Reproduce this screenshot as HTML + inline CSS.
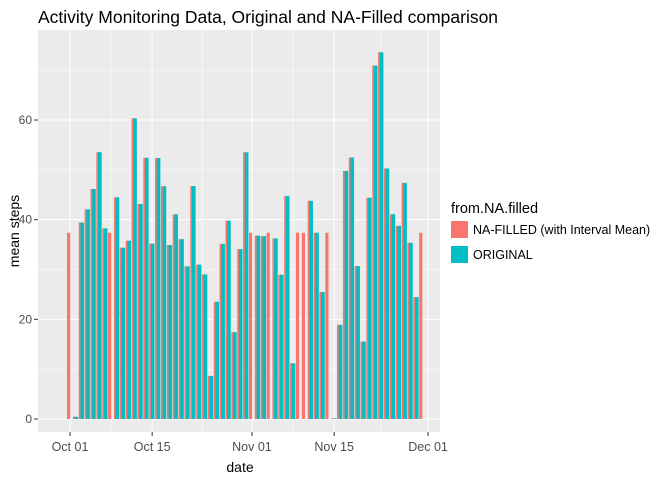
<!DOCTYPE html>
<html><head><meta charset="utf-8"><style>
body{margin:0;background:#fff;font-family:"Liberation Sans",sans-serif}
</style></head><body>
<svg id="c" width="672" height="480" xmlns="http://www.w3.org/2000/svg">
<text x="38" y="23" font-size="17.5" fill="#000">Activity Monitoring Data, Original and NA-Filled comparison</text>
<rect x="38" y="30" width="402" height="402" fill="#ebebeb"/>
<g id="grid"></g><g id="bars"></g><g id="axes"></g>
<text x="240" y="472" font-size="14" text-anchor="middle">date</text>
<text transform="translate(19,231) rotate(-90)" font-size="14" text-anchor="middle">mean steps</text>
<g>
<text x="451" y="213" font-size="14.5">from.NA.filled</text>
<rect x="451" y="221" width="17" height="17" fill="#f8766d"/>
<text x="473" y="234" font-size="12.5">NA-FILLED (with Interval Mean)</text>
<rect x="451" y="246" width="17" height="17" fill="#00bfc4"/>
<text x="473" y="259" font-size="12.5">ORIGINAL</text>
</g>
</svg>
<script>
const original=[null,0.44,39.42,42.07,46.16,53.54,38.25,null,44.48,34.38,35.78,60.35,43.15,52.42,35.20,52.38,46.71,34.92,41.07,36.09,30.63,46.74,30.97,29.01,8.65,23.53,35.14,39.78,17.42,34.09,53.52,null,36.81,36.70,null,36.25,28.94,44.73,11.18,null,null,43.78,37.38,25.47,null,0.14,18.89,49.79,52.47,30.70,15.53,44.40,70.93,73.59,50.27,41.09,38.76,47.38,35.36,24.47,null];
const fillValue=37.38;
const filled=original.map(v=>v===null?fillValue:v);
const yTicks=[0,20,40,60];
const xTickDays=[0,14,31,45,61];
const xTickLabels=["Oct 01","Oct 15","Nov 01","Nov 15","Dec 01"];
const NS="http://www.w3.org/2000/svg";
const xs=d=>70+d*5.87, ys=v=>419-v*4.983;
function mk(t,a,p){const e=document.createElementNS(NS,t);for(const k in a)e.setAttribute(k,a[k]);p.appendChild(e);return e;}
const grid=document.getElementById('grid'),bars=document.getElementById('bars'),axes=document.getElementById('axes');
[10,30,50,70].forEach(v=>{const l=mk('line',{x1:38,x2:440,y1:ys(v),y2:ys(v),stroke:'#fff','stroke-width':0.5},grid);});
[7,22.5,38,53].forEach(d=>{const l=mk('line',{x1:xs(d),x2:xs(d),y1:30,y2:432,stroke:'#fff','stroke-width':0.5},grid);});
yTicks.forEach(v=>{const l=mk('line',{x1:38,x2:440,y1:ys(v),y2:ys(v),stroke:'#fff','stroke-width':1},grid);
const t=mk('line',{x1:34,x2:38,y1:ys(v),y2:ys(v),stroke:'#333'},axes);
const tx=mk('text',{x:32,y:ys(v)+4,'font-size':12,fill:'#4d4d4d','text-anchor':'end'},axes);tx.textContent=v;});
xTickDays.forEach((d,i)=>{const l=mk('line',{x1:xs(d),x2:xs(d),y1:30,y2:432,stroke:'#fff','stroke-width':1},grid);
const t=mk('line',{x1:xs(d),x2:xs(d),y1:432,y2:436,stroke:'#333'},axes);
const tx=mk('text',{x:xs(d),y:451,'font-size':12.5,fill:'#4d4d4d','text-anchor':'middle'},axes);tx.textContent=xTickLabels[i];});
filled.forEach((v,d)=>{const r=mk('rect',{x:xs(d)-3,y:ys(v),width:3.2,height:ys(0)-ys(v),fill:'#f8766d'},bars);});
original.forEach((v,d)=>{if(v===null)return;const r=mk('rect',{x:xs(d)-1.3,y:ys(v),width:3.6,height:ys(0)-ys(v),fill:'#00bfc4'},bars);});
</script>
</body></html>
